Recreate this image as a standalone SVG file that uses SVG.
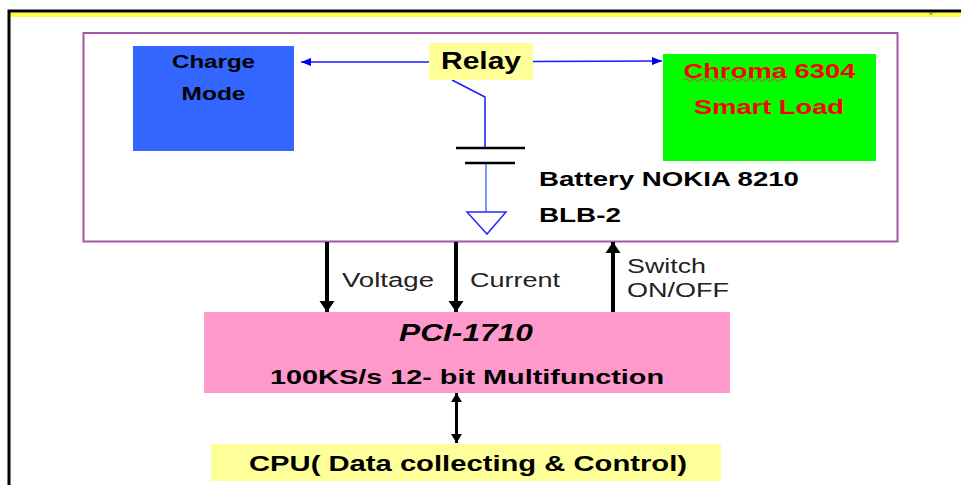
<svg xmlns="http://www.w3.org/2000/svg" width="961" height="485" viewBox="0 0 961 485">
<style>
text{font-family:"Liberation Sans",Arial,sans-serif;fill:#000}
.b{font-weight:bold}
.blue{stroke:#1a1aff;stroke-width:1.5;fill:none}
.pale{stroke:#7a98ff;stroke-width:2;fill:none}
.blk{stroke:#000;fill:none}
.lab{font-size:20px;fill:#222}
.red{fill:#f00}
</style>
<defs>
<marker id="bh" markerUnits="userSpaceOnUse" markerWidth="11" markerHeight="8" refX="10" refY="4" orient="auto"><path d="M0 0L10 4L0 8z" fill="#0000ee"/></marker>
<marker id="kh" markerUnits="userSpaceOnUse" markerWidth="12" markerHeight="16" refX="11" refY="8" orient="auto"><path d="M0 0.500L11 8L0 15.500z" fill="#000"/></marker>
<marker id="ks" markerUnits="userSpaceOnUse" markerWidth="10" markerHeight="12" refX="9" refY="6" orient="auto-start-reverse"><path d="M0 0.500L9 6L0 11.500z" fill="#000"/></marker>
</defs>
<rect width="961" height="485" fill="#fff"/>
<g id="frame">
<rect x="10" y="13" width="951" height="4" fill="#ffff33"/>
<path d="M961 11H9V485" fill="none" stroke="#000" stroke-width="3"/>
<path d="M929 12.500L931 14.500L933 12.500" fill="none" stroke="#555" stroke-width="1"/>
</g>
<g id="outer"><rect x="83.500" y="33" width="814" height="208.500" fill="#fff" stroke="#a555a5" stroke-width="2"/></g>
<g id="connectors">
<path class="blue" d="M429 62H301" marker-end="url(#bh)"/>
<path class="blue" d="M533 61.500L662 61" marker-end="url(#bh)"/>
<path class="blue" d="M452 80L485 97V147"/>
<path class="pale" d="M486 163V212"/>
<path d="M467 212H506L487 234z" fill="none" stroke="#2a2aff" stroke-width="1.500"/>
<path class="blk" stroke-width="2.500" d="M456 148H525M465 163H515"/>
<path class="blk" stroke-width="4" d="M327 242V312" marker-end="url(#kh)"/>
<path class="blk" stroke-width="4" d="M456 242V312" marker-end="url(#kh)"/>
<path class="blk" stroke-width="4" d="M613 312V242" marker-end="url(#kh)"/>
<path class="blk" stroke-width="3" d="M456.500 393V443" marker-start="url(#ks)" marker-end="url(#ks)"/>
</g>
<g id="charge-mode">
<rect x="133" y="46" width="161" height="105" fill="#3366ff"/>
<text class="b" x="213.500" y="68" font-size="18" text-anchor="middle" textLength="83" lengthAdjust="spacingAndGlyphs">Charge</text>
<text class="b" x="213.500" y="100" font-size="18" text-anchor="middle" textLength="64" lengthAdjust="spacingAndGlyphs">Mode</text>
</g>
<g id="relay">
<rect x="429" y="43" width="104" height="37" fill="#ffff99"/>
<text class="b" x="481" y="69" font-size="23" text-anchor="middle" textLength="80" lengthAdjust="spacingAndGlyphs">Relay</text>
</g>
<g id="smart-load">
<rect x="663" y="54" width="213" height="107" fill="#00ff00"/>
<text class="b red" x="769.500" y="78" font-size="20" text-anchor="middle" textLength="172" lengthAdjust="spacingAndGlyphs">Chroma 6304</text>
<text class="b red" x="769" y="114" font-size="20" text-anchor="middle" textLength="150" lengthAdjust="spacingAndGlyphs">Smart Load</text>
<path d="M684 80q2 -2.500 4 0t4 0t4 0t4 0t4 0t4 0t4 0t4 0t4 0t4 0t4 0t4 0t4 0t4 0t4 0t4 0t4 0t4 0t4 0t4 0t4 0t4 0t4 0t4 0t4 0" fill="none" stroke="#d05050" stroke-width="1.200"/>
</g>
<g id="battery">
<text class="b" x="539" y="186" font-size="20" textLength="260" lengthAdjust="spacingAndGlyphs">Battery NOKIA 8210</text>
<text class="b" x="539" y="222" font-size="20" textLength="82" lengthAdjust="spacingAndGlyphs">BLB-2</text>
</g>
<g id="labels">
<text class="lab" x="342" y="287" textLength="92" lengthAdjust="spacingAndGlyphs">Voltage</text>
<text class="lab" x="470" y="287" textLength="90" lengthAdjust="spacingAndGlyphs">Current</text>
<text class="lab" x="627" y="273" textLength="79" lengthAdjust="spacingAndGlyphs">Switch</text>
<text class="lab" x="627" y="297" textLength="102" lengthAdjust="spacingAndGlyphs">ON/OFF</text>
</g>
<g id="pci">
<rect x="204" y="312" width="526" height="81" fill="#ff99cc"/>
<text class="b" x="466" y="341" font-size="23" font-style="italic" text-anchor="middle" textLength="134" lengthAdjust="spacingAndGlyphs">PCI-1710</text>
<text class="b" x="467" y="384" font-size="21" text-anchor="middle" textLength="394" lengthAdjust="spacingAndGlyphs">100KS/s 12- bit Multifunction</text>
</g>
<g id="cpu">
<rect x="211" y="444" width="510" height="37" fill="#ffff99"/>
<text class="b" x="468" y="471" font-size="22" text-anchor="middle" textLength="438" lengthAdjust="spacingAndGlyphs">CPU( Data collecting &amp; Control)</text>
</g>
</svg>
